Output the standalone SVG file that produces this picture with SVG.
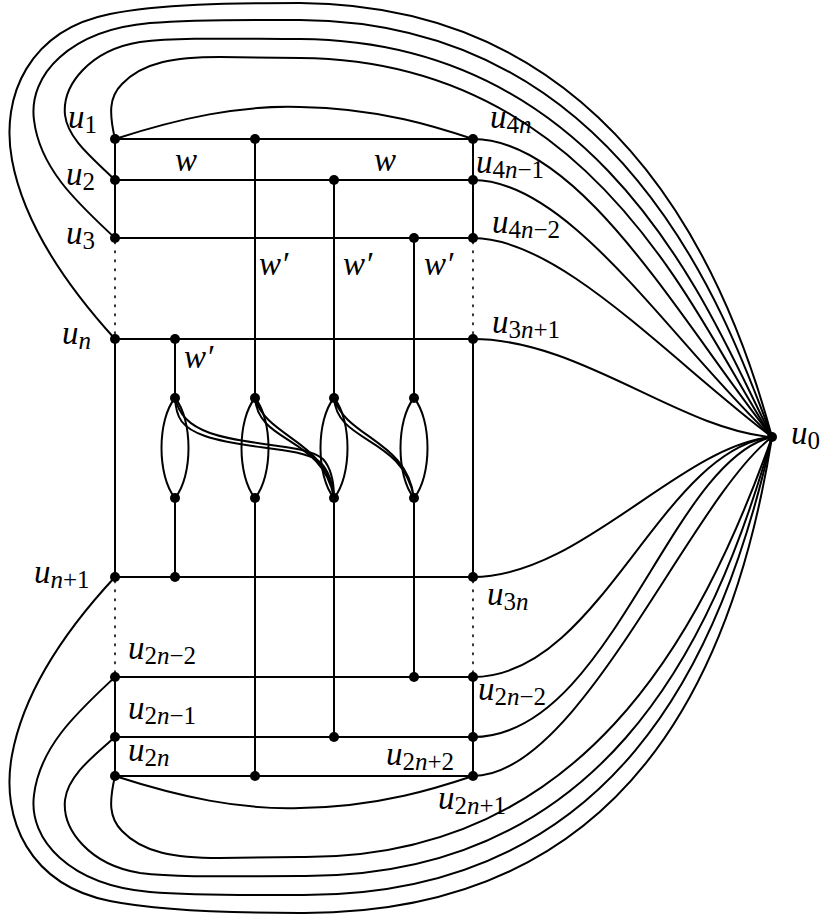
<svg xmlns="http://www.w3.org/2000/svg" width="822" height="924" viewBox="0 0 822 924">
<style>
.e{fill:none;stroke:#000;stroke-width:2;stroke-linecap:round}
.d{fill:none;stroke:#000;stroke-width:1.6;stroke-dasharray:1.6 7.4;stroke-linecap:round}
.n{fill:#000}
.t{font-family:"Liberation Serif","DejaVu Serif",serif;font-size:33px;font-style:italic;fill:#000}
.s{font-size:25px;font-style:normal}
.i{font-style:italic}
</style>
<rect width="822" height="924" fill="#fff"/>
<g id="connectors">
<path class="e" d="M115,139H473M115,180H473M115,238H473M115,339H473M115,577H473M115,677H473M115,737H473M115,776H473"/>
<path class="e" d="M115,139V238M115,339V577M115,677V776M473,139V238M473,339V577M473,677V776"/>
<path class="d" d="M115,242V335M115,581V673M473,242V335M473,581V673"/>
<path class="e" d="M175,339V398M175,498V577M255,139V398M255,498V776M334,180V398M334,498V737M414,238V398M414,498V677"/>
<path class="e" d="M175,398C157,420 157,476 175,498M175,398C193,420 193,476 175,498"/>
<path class="e" d="M255,398C237,420 237,476 255,498M255,398C273,420 273,476 255,498"/>
<path class="e" d="M334,398C316,420 316,476 334,498M334,398C352,420 352,476 334,498"/>
<path class="e" d="M414,398C396,420 396,476 414,498M414,398C432,420 432,476 414,498"/>
<path class="e" d="M175,398C176,418 182,428 205,436C245,450 300,446 320,462C330,472 333,486 334,498"/>
<path class="e" d="M175,398C179,414 188,425 210,433C250,447 303,443 323,459C332,469 334,486 334,498"/>
<path class="e" d="M255,398C258,444 323,436 334,498M255,398C266,438 327,440 334,498"/>
<path class="e" d="M334,398C337,444 403,436 414,498M334,398C346,438 407,440 414,498"/>
<path class="e" d="M115,139C180,118 240,105 300,107C380,108 440,128 473,139"/>
<path class="e" d="M115,776C180,797 240,810 300,808C380,807 440,787 473,776"/>
<path class="e" d="M473,139C580,139 680,320 772,437"/>
<path class="e" d="M473,180C570,180 670,340 772,437"/>
<path class="e" d="M473,238C560,238 670,360 772,437"/>
<path class="e" d="M473,339C580,339 680,430 772,437"/>
<path class="e" d="M473,577C580,577 680,446 772,437"/>
<path class="e" d="M473,677C600,677 660,450 772,437"/>
<path class="e" d="M473,737C610,737 670,460 772,437"/>
<path class="e" d="M473,776C580,776 690,500 772,437"/>
<path class="e" d="M115,139C109,113 109,97 122,84C143,62 175,57 220,57L300,58C600,60 700,330 772,437"/>
<path class="e" d="M115,180C95,160 68,140 65,115C62,85 90,50 140,42C180,37 240,39 300,39C610,41 712,320 772,437"/>
<path class="e" d="M115,238C80,205 40,170 34,120C28,75 70,30 150,23C200,19 250,20 300,20C620,22 725,310 772,437"/>
<path class="e" d="M115,339C75,295 25,230 12,160C0,95 30,30 110,14C160,4 230,3 300,3C630,5 735,300 772,437"/>
<path class="e" d="M115,776C109,802 109,818 122,831C143,853 175,858 220,858L300,857C580,860 700,640 772,437"/>
<path class="e" d="M115,737C95,755 68,775 65,800C62,830 90,865 140,873C180,878 240,876 300,876C600,879 712,650 772,437"/>
<path class="e" d="M115,677C80,710 40,745 34,795C28,840 70,885 150,892C200,896 250,895 300,895C615,897 722,660 772,437"/>
<path class="e" d="M115,577C75,620 25,685 12,755C0,820 30,885 110,901C160,911 230,913 300,913C630,915 735,670 772,437"/>
</g>
<g id="u1"><circle class="n" cx="115" cy="139" r="5"/><text class="t" x="68" y="128">u<tspan class="s" dy="5">1</tspan></text></g>
<g id="u2"><circle class="n" cx="115" cy="180" r="5"/><text class="t" x="66" y="185">u<tspan class="s" dy="5">2</tspan></text></g>
<g id="u3"><circle class="n" cx="115" cy="238" r="5"/><text class="t" x="66" y="244">u<tspan class="s" dy="5">3</tspan></text></g>
<g id="un"><circle class="n" cx="115" cy="339" r="5"/><text class="t" x="62" y="344">u<tspan class="s i" dy="5">n</tspan></text></g>
<g id="un1"><circle class="n" cx="115" cy="577" r="5"/><text class="t" x="34" y="583">u<tspan class="s" dy="5"><tspan class="i">n</tspan>+1</tspan></text></g>
<g id="u2n2L"><circle class="n" cx="115" cy="677" r="5"/><text class="t" x="128" y="659">u<tspan class="s" dy="5">2<tspan class="i">n</tspan>−2</tspan></text></g>
<g id="u2n1L"><circle class="n" cx="115" cy="737" r="5"/><text class="t" x="128" y="719">u<tspan class="s" dy="5">2<tspan class="i">n</tspan>−1</tspan></text></g>
<g id="u2n"><circle class="n" cx="115" cy="776" r="5"/><text class="t" x="128" y="761">u<tspan class="s" dy="5">2<tspan class="i">n</tspan></tspan></text></g>
<g id="u4n"><circle class="n" cx="473" cy="139" r="5"/><text class="t" x="490" y="128">u<tspan class="s" dy="5">4<tspan class="i">n</tspan></tspan></text></g>
<g id="u4n1"><circle class="n" cx="473" cy="180" r="5"/><text class="t" x="476" y="173">u<tspan class="s" dy="5">4<tspan class="i">n</tspan>−1</tspan></text></g>
<g id="u4n2"><circle class="n" cx="473" cy="238" r="5"/><text class="t" x="492" y="233">u<tspan class="s" dy="5">4<tspan class="i">n</tspan>−2</tspan></text></g>
<g id="u3n1"><circle class="n" cx="473" cy="339" r="5"/><text class="t" x="492" y="333">u<tspan class="s" dy="5">3<tspan class="i">n</tspan>+1</tspan></text></g>
<g id="u3n"><circle class="n" cx="473" cy="577" r="5"/><text class="t" x="487" y="605">u<tspan class="s" dy="5">3<tspan class="i">n</tspan></tspan></text></g>
<g id="u2n2R"><circle class="n" cx="473" cy="677" r="5"/><text class="t" x="478" y="700">u<tspan class="s" dy="5">2<tspan class="i">n</tspan>−2</tspan></text></g>
<g id="u2n2b"><circle class="n" cx="473" cy="737" r="5"/><text class="t" x="386" y="765">u<tspan class="s" dy="5">2<tspan class="i">n</tspan>+2</tspan></text></g>
<g id="u2n1R"><circle class="n" cx="473" cy="776" r="5"/><text class="t" x="438" y="809">u<tspan class="s" dy="5">2<tspan class="i">n</tspan>+1</tspan></text></g>
<g id="u0"><circle class="n" cx="772" cy="437" r="5"/><text class="t" x="791" y="444">u<tspan class="s" dy="5">0</tspan></text></g>
<g id="a1"><circle class="n" cx="255" cy="139" r="5"/></g>
<g id="a2"><circle class="n" cx="334" cy="180" r="5"/><text class="t" x="175" y="171">w</text><text class="t" x="374" y="171">w</text></g>
<g id="a3"><circle class="n" cx="414" cy="238" r="5"/></g>
<g id="a4"><circle class="n" cx="175" cy="339" r="5"/></g>
<g id="b1"><circle class="n" cx="175" cy="577" r="5"/></g>
<g id="b2"><circle class="n" cx="414" cy="677" r="5"/></g>
<g id="b3"><circle class="n" cx="334" cy="737" r="5"/></g>
<g id="b4"><circle class="n" cx="255" cy="776" r="5"/></g>
<g id="L1"><circle class="n" cx="175" cy="398" r="5"/><circle class="n" cx="175" cy="498" r="5"/><text class="t" x="184" y="368">w′</text></g>
<g id="L2"><circle class="n" cx="255" cy="398" r="5"/><circle class="n" cx="255" cy="498" r="5"/><text class="t" x="259" y="275">w′</text></g>
<g id="L3"><circle class="n" cx="334" cy="398" r="5"/><circle class="n" cx="334" cy="498" r="5"/><text class="t" x="343" y="275">w′</text></g>
<g id="L4"><circle class="n" cx="414" cy="398" r="5"/><circle class="n" cx="414" cy="498" r="5"/><text class="t" x="424" y="275">w′</text></g>
</svg>
